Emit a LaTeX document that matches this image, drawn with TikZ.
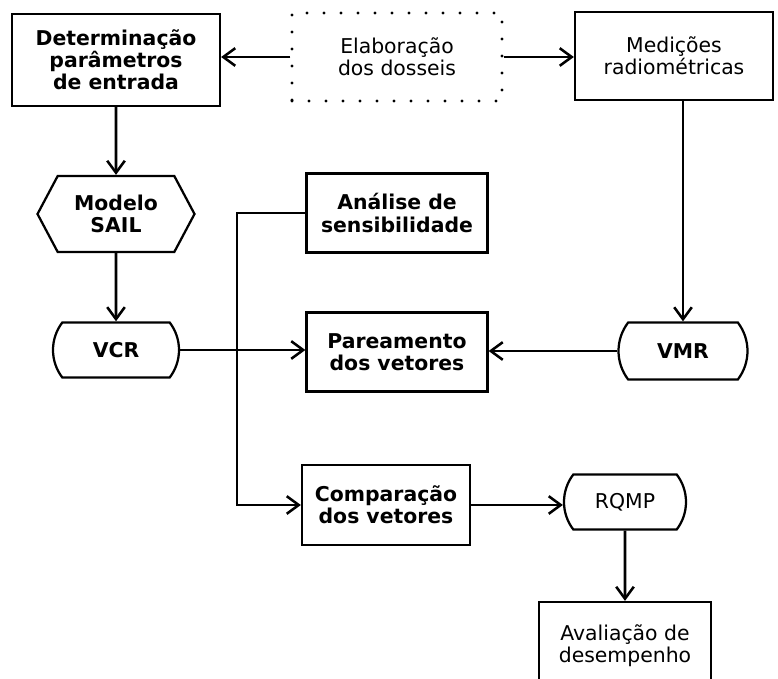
\documentclass[tikz,border=0pt]{standalone}
\usepackage{fontspec}
\setmainfont{DejaVu Sans}
\usetikzlibrary{arrows.meta,shapes.misc,shapes.symbols}

\begin{document}
\begin{tikzpicture}[x=0.25mm,y=-0.25mm,
  >={Straight Barb[length=3mm,width=4.4mm]},
  every node/.style={font=\fontsize{14.5}{15.8}\selectfont,align=center,inner sep=0pt},
  heavy/.style={font=\fontsize{14.5}{15.8}\selectfont\bfseries},
  flow/.style={line width=1.8pt,->},
  stepbox/.style={draw,line width=1.6pt,rectangle},
  databox/.style={draw,line width=1.6pt,rounded rectangle,rounded rectangle arc length=75,
    minimum width=31.5mm,minimum height=13.8mm},
  modelbox/.style={draw,line width=1.6pt,signal,signal to=east and west,signal pointer angle=124},
  dotbox/.style={draw,line width=2.2pt,dash pattern=on 0pt off 4.25mm,line cap=round}]
\clip (0,0) rectangle (778,679);

\node (det) at (116,60) [stepbox,heavy,minimum width=52mm,minimum height=23mm] {Determinação\\parâmetros\\de entrada};
\node (elab) at (397,57) [dotbox,minimum width=52.5mm,minimum height=22mm] {Elaboração\\dos dosseis};
\node (med) at (674,56) [stepbox,minimum width=49.5mm,minimum height=22mm] {Medições\\radiométricas};
\node (sail) at (116,214) [modelbox,heavy,minimum width=39.25mm,minimum height=19mm] {Modelo\\SAIL};
\node (ana) at (397,213) [stepbox,heavy,minimum width=45.25mm,minimum height=19.75mm] {Análise de\\sensibilidade};
\node (vcr) at (116,350) [databox,heavy] {VCR};
\node (par) at (397,352) [stepbox,heavy,minimum width=45.25mm,minimum height=19.75mm] {Pareamento\\dos vetores};
\node (vmr) at (683,351) [databox,heavy,minimum width=32.25mm,minimum height=14.25mm] {VMR};
\node (comp) at (386,505) [stepbox,heavy,minimum width=42mm,minimum height=20mm] {Comparação\\dos vetores};
\node (rqmp) at (625,502) [databox,minimum width=30.5mm] {RQMP};
\node (aval) at (625,646) [stepbox,minimum width=43mm,minimum height=22mm] {Avaliação de\\desempenho};
\coordinate (bus) at (237,213);

\draw[flow] (elab.west) -- (det.east |- elab.west);
\draw[flow] (elab.east) -- (med.west |- elab.east);
\draw[flow] (det) -- (sail);
\draw[flow] (sail) -- (vcr);
\draw[flow] (vmr.north |- med.south) -- (vmr.north);
\draw[flow] (vcr.east) -- (par.west |- vcr.east);
\draw[flow] (vmr.west) -- (par.east |- vmr.west);
\draw[flow] (ana.west) -- (bus) |- (comp.west);
\draw[flow] (comp.east) -- (rqmp.west |- comp.east);
\draw[flow] (rqmp) -- (aval);
\end{tikzpicture}
\end{document}
